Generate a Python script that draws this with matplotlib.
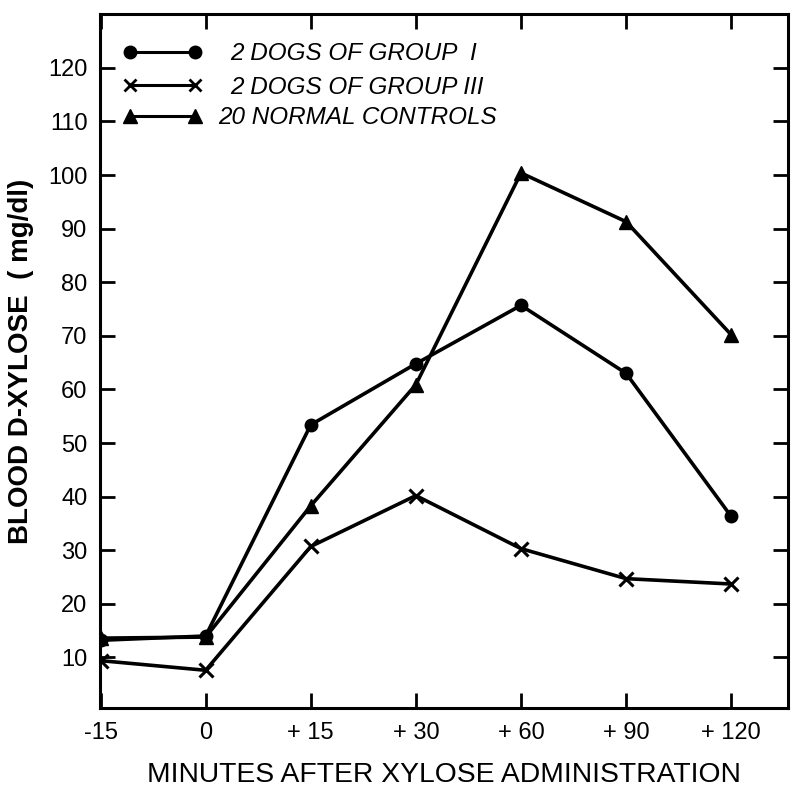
import matplotlib
matplotlib.use("Agg")
import matplotlib.pyplot as plt
from matplotlib.font_manager import FontProperties

categories = ["-15", "0", "+ 15", "+ 30", "+ 60", "+ 90", "+ 120"]
group1 = [13.2, 14.0, 53.4, 64.8, 75.7, 63.0, 36.3]
group3 = [9.4, 7.6, 30.7, 40.2, 30.3, 24.7, 23.7]
controls = [13.6, 13.8, 38.3, 60.9, 100.4, 91.3, 70.2]
yticks = [10, 20, 30, 40, 50, 60, 70, 80, 90, 100, 110, 120]

labels = ["2 DOGS OF GROUP  I", "2 DOGS OF GROUP III", "20 NORMAL CONTROLS"]

fig = plt.figure(figsize=(8.0, 7.95), dpi=100)
ax = fig.add_axes([0.125, 0.109, 0.86, 0.873])

x = list(range(len(categories)))
lw = 2.6
ax.plot(x, group1, color="black", lw=lw, marker="o", ms=9, zorder=3)
ax.plot(x, group3, color="black", lw=lw, marker="x", ms=10, mew=2.2, zorder=3)
ax.plot(x, controls, color="black", lw=lw, marker="^", ms=10, zorder=3)

ax.set_xlim(-0.005, 6.54)
ax.set_ylim(0.5, 130)
ax.set_xticks(x)
ax.set_xticklabels(categories)
ax.set_yticks(yticks)
ax.set_yticklabels([str(v) for v in yticks])

tickfont = FontProperties(family=["Liberation Sans", "DejaVu Sans"], size=17)
for lab in ax.get_xticklabels() + ax.get_yticklabels():
    lab.set_fontproperties(tickfont)

ax.tick_params(axis="both", which="major", direction="in", length=11, width=2,
               top=True, right=True, pad=10, colors="black")
ax.tick_params(axis="y", pad=9)
for s in ax.spines.values():
    s.set_linewidth(2.2)

ax.set_xlabel("MINUTES AFTER XYLOSE ADMINISTRATION",
              family=["Liberation Sans", "DejaVu Sans"], fontsize=20.3, labelpad=13)
ax.set_ylabel("BLOOD D-XYLOSE  ( mg/dl)", family=["Liberation Sans", "DejaVu Sans"],
              fontsize=20, fontweight="bold", labelpad=10)

# legend: manual, lines with markers at both ends
markers = [("o", 9, None), ("x", 8, 2.0), ("^", 10, None)]
rows_y = [123.0, 116.8, 111.1]
text_x = [1.237, 1.237, 1.12]
for (m, ms, mew), yy, lab, tx in zip(markers, rows_y, labels, text_x):
    kw = dict(color="black", lw=2.2, marker=m, ms=ms)
    if mew:
        kw["mew"] = mew
    ax.plot([0.28, 0.9], [yy, yy], **kw, zorder=3)
    ax.text(tx, yy - 0.4, lab, fontsize=17.5, fontstyle="italic",
            family=["Liberation Sans", "DejaVu Sans"], va="center", ha="left")

fig.savefig("out.png", dpi=100)
